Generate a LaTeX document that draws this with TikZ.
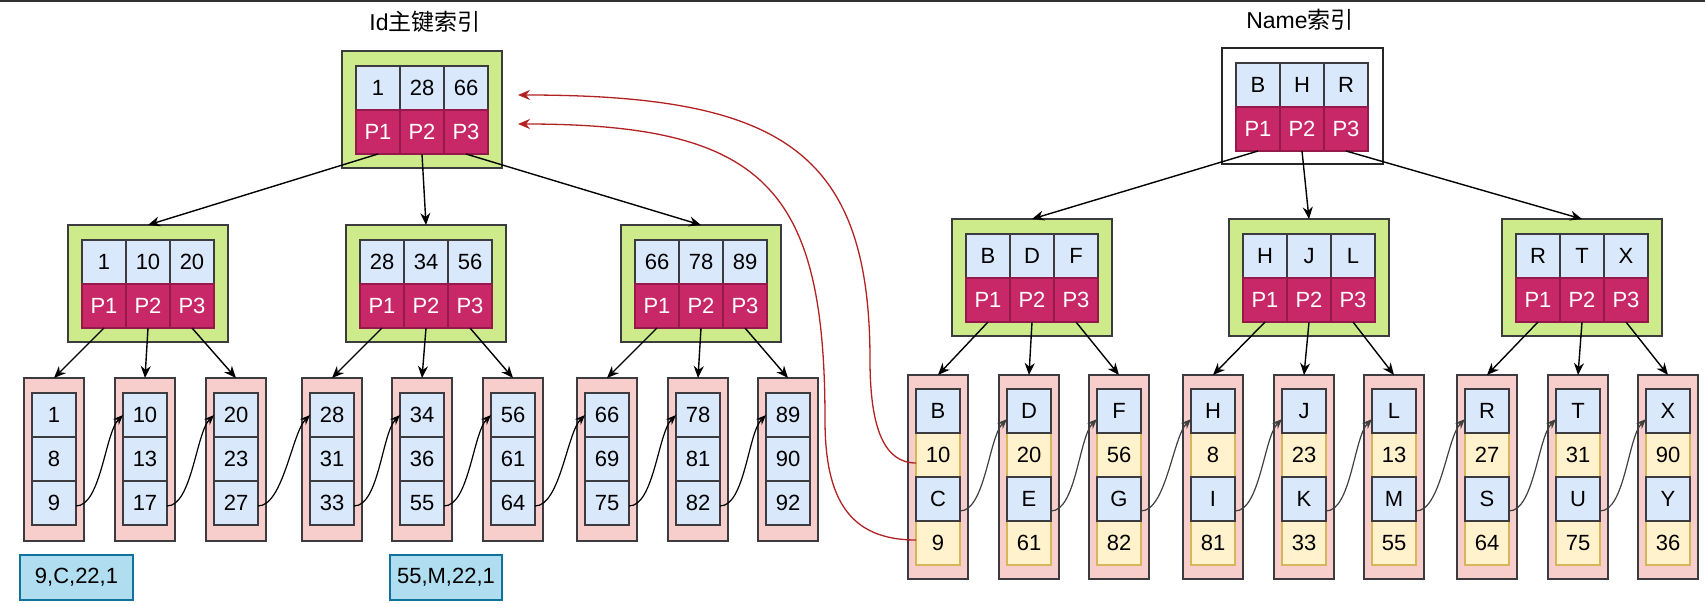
\documentclass[tikz,border=0pt]{standalone}
\usepackage{fontspec}
\setmainfont{Liberation Sans}
\newfontfamily\cjk{Noto Sans CJK SC}
\usetikzlibrary{arrows.meta}
\definecolor{cblue}{RGB}{218,232,252}
\definecolor{cmag}{RGB}{200,40,104}
\definecolor{cmagd}{RGB}{150,25,75}
\definecolor{cgreen}{RGB}{205,235,139}
\definecolor{cpink}{RGB}{248,206,204}
\definecolor{cyel}{RGB}{255,242,204}
\definecolor{cyelb}{RGB}{214,182,86}
\definecolor{cline}{RGB}{60,60,64}
\definecolor{cred}{RGB}{178,34,34}
\definecolor{crowb}{RGB}{177,221,240}
\definecolor{crowd}{RGB}{16,115,158}
\tikzset{
 every node/.style={font=\fontsize{22}{26}\selectfont, inner sep=0pt, outer sep=0pt},
 cellbase/.style={draw=cline, line width=1.1pt, minimum width=44pt, minimum height=44pt, anchor=north west},
 kcell/.style={cellbase, fill=cblue},
 pcell/.style={cellbase, fill=cmag, draw=cmagd, text=white},
 ycell/.style={cellbase, fill=cyel, draw=cyelb},
 greenbox/.style={draw=cline, fill=cgreen, line width=1.2pt, minimum width=160pt, minimum height=117pt, anchor=north west},
 whitebox/.style={draw=black!85, fill=white, line width=1.2pt, minimum width=161pt, minimum height=116pt, anchor=north west},
 pinkbox/.style={draw=cline, fill=cpink, line width=1.2pt, minimum width=60pt, anchor=north west},
 rowbox/.style={draw=crowd, fill=crowb, line width=1.2pt, minimum width=113pt, minimum height=45pt, anchor=north west},
 tree/.style={draw=black, line width=1.4pt, -{Stealth[length=12pt,width=10pt]}},
 link/.style={draw=black, line width=1.2pt, -{Stealth[length=10pt,width=8pt]}},
 nlink/.style={link, draw=black!75},
 back/.style={draw=cred, line width=1.3pt, -{Stealth[length=12pt,width=10pt]}},
 title/.style={font=\fontsize{23}{27}\selectfont},
}
% internal node: name, frame style, x, y, k1, k2, k3
\newcommand{\TriNode}[7]{%
 \node[#2] (#1) at (#3,#4) {};
 \node[kcell] (#1-a) at ({#3+14},{#4+15}) {#5};
 \node[kcell] (#1-b) at ({#3+58},{#4+15}) {#6};
 \node[kcell] (#1-c) at ({#3+102},{#4+15}) {#7};
 \node[pcell] (#1-p1) at ({#3+14},{#4+59}) {P1};
 \node[pcell] (#1-p2) at ({#3+58},{#4+59}) {P2};
 \node[pcell] (#1-p3) at ({#3+102},{#4+59}) {P3};
}
% primary-key leaf: name, x, k1, k2, k3
\newcommand{\IdLeaf}[5]{%
 \node[pinkbox, minimum height=163pt] (#1) at (#2,378) {};
 \node[kcell] (#1-a) at ({#2+8},393) {#3};
 \node[kcell] (#1-b) at ({#2+8},437) {#4};
 \node[kcell] (#1-c) at ({#2+8},481) {#5};
}
% name leaf: name, x, L1, n1, L2, n2
\newcommand{\NmLeaf}[6]{%
 \node[pinkbox, minimum height=204pt] (#1) at (#2,375) {};
 \node[ycell] (#1-b) at ({#2+8},433) {#4};
 \node[ycell] (#1-d) at ({#2+8},521) {#6};
 \node[kcell] (#1-a) at ({#2+8},389) {#3};
 \node[kcell] (#1-c) at ({#2+8},477) {#5};
}
\begin{document}
\begin{tikzpicture}[x=1pt,y=-1pt]
\useasboundingbox (0,0) rectangle (1705,604);
\fill[white] (0,0) rectangle (1705,604);
\draw[black!80, line width=2pt] (0,1) -- (1705,1);

\node[title] (tid) at (425,22) {Id{\cjk 主键索引}};
\node[title] (tnm) at (1300,20) {Name{\cjk 索引}};

% ---------- Id primary key index ----------
\TriNode{ir}{greenbox}{342}{51}{1}{28}{66}
\TriNode{im1}{greenbox}{68}{225}{1}{10}{20}
\TriNode{im2}{greenbox}{346}{225}{28}{34}{56}
\TriNode{im3}{greenbox}{621}{225}{66}{78}{89}

\IdLeaf{il1}{24}{1}{8}{9}
\IdLeaf{il2}{115}{10}{13}{17}
\IdLeaf{il3}{206}{20}{23}{27}
\IdLeaf{il4}{302}{28}{31}{33}
\IdLeaf{il5}{392}{34}{36}{55}
\IdLeaf{il6}{483}{56}{61}{64}
\IdLeaf{il7}{577}{66}{69}{75}
\IdLeaf{il8}{668}{78}{81}{82}
\IdLeaf{il9}{758}{89}{90}{92}

\node[rowbox] (row1) at (20,555) {9,C,22,1};
\node[rowbox, minimum width=112pt] (row2) at (390,555) {55,M,22,1};

\draw[tree] (ir-p1.south) -- (im1.north);
\draw[tree] (ir-p2.south) -- (im2.north);
\draw[tree] (ir-p3.south) -- (im3.north);
\draw[tree] (im1-p1.south) -- (il1.north);
\draw[tree] (im1-p2.south) -- (il2.north);
\draw[tree] (im1-p3.south) -- (il3.north);
\draw[tree] (im2-p1.south) -- (il4.north);
\draw[tree] (im2-p2.south) -- (il5.north);
\draw[tree] (im2-p3.south) -- (il6.north);
\draw[tree] (im3-p1.south) -- (il7.north);
\draw[tree] (im3-p2.south) -- (il8.north);
\draw[tree] (im3-p3.south) -- (il9.north);

\foreach \a/\b in {il1/il2,il2/il3,il3/il4,il4/il5,il5/il6,il6/il7,il7/il8,il8/il9}
  \draw[link] ([yshift=-3pt]\a-c.east) .. controls +(25,0) and +(-18,18) .. (\b-a.west);

% ---------- Name index ----------
\TriNode{nr}{whitebox}{1222}{48}{B}{H}{R}
\TriNode{nm1}{greenbox}{952}{219}{B}{D}{F}
\TriNode{nm2}{greenbox}{1229}{219}{H}{J}{L}
\TriNode{nm3}{greenbox}{1502}{219}{R}{T}{X}

\NmLeaf{nl1}{908}{B}{10}{C}{9}
\NmLeaf{nl2}{999}{D}{20}{E}{61}
\NmLeaf{nl3}{1089}{F}{56}{G}{82}
\NmLeaf{nl4}{1183}{H}{8}{I}{81}
\NmLeaf{nl5}{1274}{J}{23}{K}{33}
\NmLeaf{nl6}{1364}{L}{13}{M}{55}
\NmLeaf{nl7}{1457}{R}{27}{S}{64}
\NmLeaf{nl8}{1548}{T}{31}{U}{75}
\NmLeaf{nl9}{1638}{X}{90}{Y}{36}

\draw[tree] (nr-p1.south) -- (nm1.north);
\draw[tree] (nr-p2.south) -- (nm2.north);
\draw[tree] (nr-p3.south) -- (nm3.north);
\draw[tree] (nm1-p1.south) -- (nl1.north);
\draw[tree] (nm1-p2.south) -- (nl2.north);
\draw[tree] (nm1-p3.south) -- (nl3.north);
\draw[tree] (nm2-p1.south) -- (nl4.north);
\draw[tree] (nm2-p2.south) -- (nl5.north);
\draw[tree] (nm2-p3.south) -- (nl6.north);
\draw[tree] (nm3-p1.south) -- (nl7.north);
\draw[tree] (nm3-p2.south) -- (nl8.north);
\draw[tree] (nm3-p3.south) -- (nl9.north);

\foreach \a/\b in {nl1/nl2,nl2/nl3,nl3/nl4,nl4/nl5,nl5/nl6,nl6/nl7,nl7/nl8,nl8/nl9}
  \draw[nlink] ([yshift=-12pt]\a-c.east) .. controls +(25,0) and +(-18,18) .. ([yshift=-8pt]\b-a.west);

% ---------- back references to primary key index ----------
\coordinate (back1) at (518,95);
\coordinate (back2) at (518,124);
\draw[back] ([yshift=-8pt]nl1-b.west) .. controls (885,463) and (870,430) .. (870,360)
  .. controls (870,150) and (780,95) .. (back1);
\draw[back] ([yshift=3pt]nl1-d.west) .. controls (850,540) and (825,500) .. (825,420)
  .. controls (825,187) and (764,124) .. (back2);
\end{tikzpicture}
\end{document}
